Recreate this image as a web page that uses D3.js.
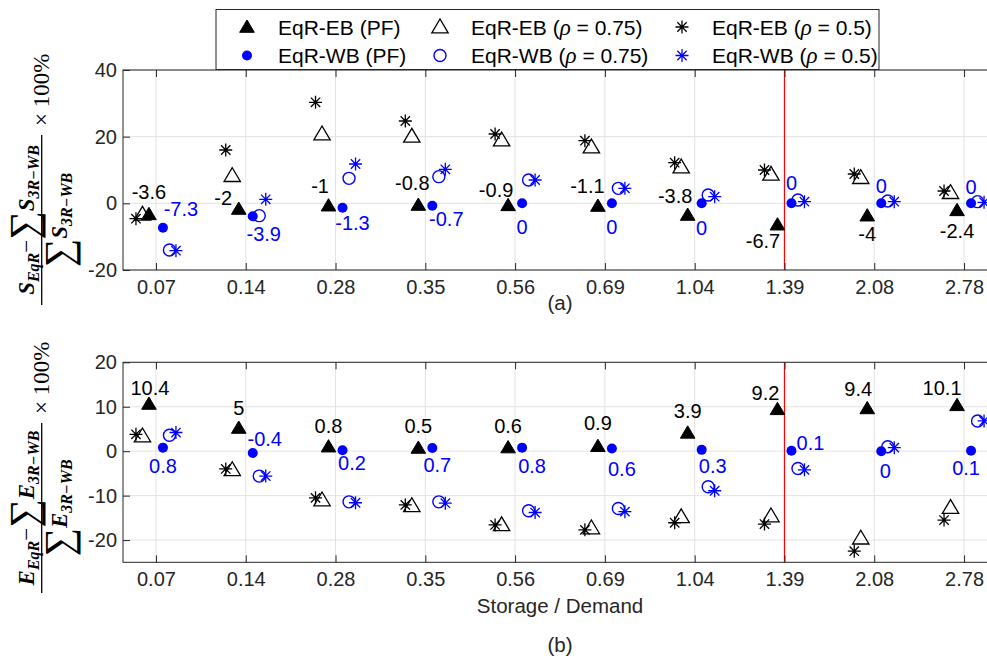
<!DOCTYPE html>
<html><head><meta charset="utf-8">
<script src="https://cdn.jsdelivr.net/npm/d3@7"></script>
<style>body{margin:0;background:#fff} svg{display:block}</style>
</head><body>
<script>
// ---------------- DATA ----------------
const categories = ["0.07","0.14","0.28","0.35","0.56","0.69","1.04","1.39","2.08","2.78"];
// (a) storage deviation, %
const sEbPF  = [-3.6, -2, -1, -0.8, -0.9, -1.1, -3.8, -6.7, -4, -2.4];
const sWbPF  = [-7.3, -3.9, -1.3, -0.7, 0, 0, 0, 0, 0, 0];
const sEb075 = [-3.6, 8, 20.5, 19.8, 18.7, 16.6, 10.6, 8.4, 7.4, 2.9];
const sWb075 = [-14, -3.7, 7.5, 8, 7, 4.5, 2.5, 1, 0.7, 0.5];
const sEb05  = [-4.6, 16, 30.3, 24.7, 20.8, 18.8, 12.2, 10, 8.8, 3.7];
const sWb05  = [-14.2, 1.2, 11.8, 10.2, 7, 4.5, 2, 0.5, 0.5, 0.3];
// (b) energy deviation, %
const eEbPF  = [10.4, 5, 0.8, 0.5, 0.6, 0.9, 3.9, 9.2, 9.4, 10.1];
const eWbPF  = [0.8, -0.4, 0.2, 0.7, 0.8, 0.6, 0.3, 0.1, 0, 0.1];
const eEb075 = [3.2, -4.4, -11.2, -12.5, -16.8, -17.5, -15, -14.8, -19.8, -12.9];
const eWb075 = [3.6, -5.6, -11.4, -11.4, -13.4, -12.9, -8, -3.9, 1, 6.8];
const eEb05  = [3.8, -4, -10.5, -12.1, -16.6, -17.7, -16.1, -16.4, -22.5, -15.5];
const eWb05  = [4.2, -5.6, -11.6, -11.7, -13.8, -13.6, -8.9, -4.2, 0.8, 6.8];
const yTicksA = [-20, 0, 20, 40];
const yTicksB = [-20, -10, 0, 10, 20];
const markedCategory = "1.39";

// ---------------- LAYOUT (annotation offsets, px) ----------------
const lblA_black = [[0,-23.6],[-15.5,-12.5],[-8.5,-20.7],[-6,-23.5],[-12,-17],[-10.5,-21.5],[-12.5,-20.5],[-14.5,15],[0,16.7],[0,19]];
const lblA_blue  = [[18,-18.6],[11,17],[10,15],[14,13],[0,23],[0,23],[0,24],[0,-21],[0,-18],[0,-17]];
const lblB_black = [[1,-17.5],[0,-21.5],[0,-21.8],[0,-23],[0,-23],[0,-24.7],[0,-23],[-12,-18],[-9,-20.6],[-15,-19]];
const lblB_blue  = [[0,18],[12,-14],[9.5,12],[5,17],[10,18.5],[10,20],[11,16],[19,-8],[4,19.6],[-5,17]];

const W = 987, H = 656;
const SANS = "'Liberation Sans', Arial, sans-serif";
const SERIF = "'Liberation Serif', 'Times New Roman', serif";
const AX = "#262626";
const BLUE = "#0000ff";
const FS = 20;

const svg = d3.select("body").append("svg").attr("width", W).attr("height", H)
  .attr("font-family", SANS);

const left = 123, right = 997;
const x = d3.scalePoint().domain(categories).range([left, right]).padding(0.367);
const off = {eb05: -20, eb075: -13.5, ebPF: -7, wbPF: 7, wb075: 13.5, wb05: 20};

function marker(g, type, cx, cy) {
  if (type === "triF" || type === "triO") {
    const s = type === "triF" ? 1 : 1.12;
    const p = `M${cx},${cy - 8*s}L${cx - 7.3*s},${cy + 4.3*s}L${cx + 7.3*s},${cy + 4.3*s}Z`;
    g.append("path").attr("d", p)
      .attr("fill", type === "triF" ? "#000" : "none")
      .attr("stroke", "#000").attr("stroke-width", type === "triF" ? 1 : 1.3)
      .attr("stroke-linejoin", "miter");
  } else if (type === "dot") {
    g.append("circle").attr("cx", cx).attr("cy", cy).attr("r", 5).attr("fill", BLUE);
  } else if (type === "circ") {
    g.append("circle").attr("cx", cx).attr("cy", cy).attr("r", 6).attr("fill", "none")
      .attr("stroke", BLUE).attr("stroke-width", 1.4);
  } else if (type === "starK" || type === "starB") {
    const c = type === "starK" ? "#000" : BLUE;
    const a = 6.5, d = a * 0.72;
    const p = `M${cx - a},${cy}H${cx + a}M${cx},${cy - a}V${cy + a}` +
              `M${cx - d},${cy - d}L${cx + d},${cy + d}M${cx - d},${cy + d}L${cx + d},${cy - d}`;
    g.append("path").attr("d", p).attr("stroke", c).attr("stroke-width", 1.3).attr("fill", "none");
  }
}

function panel(cfg) {
  const y = d3.scaleLinear().domain(cfg.domain).range([cfg.bottom, cfg.top]);
  const g = svg.append("g");
  g.selectAll(".gx").data(categories).join("line")
    .attr("x1", d => x(d)).attr("x2", d => x(d))
    .attr("y1", cfg.top).attr("y2", cfg.bottom)
    .attr("stroke", "#e2e2e2").attr("stroke-width", 1);
  g.selectAll(".gy").data(cfg.ticks).join("line")
    .attr("x1", left).attr("x2", right)
    .attr("y1", d => y(d)).attr("y2", d => y(d))
    .attr("stroke", "#e2e2e2").attr("stroke-width", 1);
  g.append("line").attr("x1", x(markedCategory)).attr("x2", x(markedCategory))
    .attr("y1", cfg.top).attr("y2", cfg.bottom).attr("stroke", "#ff0000").attr("stroke-width", 1.2);
  const ax = g.append("g").attr("transform", `translate(0,${cfg.bottom})`)
    .call(d3.axisBottom(x).tickSize(-7).tickPadding(10));
  const axT = g.append("g").attr("transform", `translate(0,${cfg.top})`)
    .call(d3.axisTop(x).tickSize(-7).tickFormat(""));
  const ay = g.append("g").attr("transform", `translate(${left},0)`)
    .call(d3.axisLeft(y).tickValues(cfg.ticks).tickSize(-7).tickPadding(6).tickFormat(d => String(d)));
  [ax, axT, ay].forEach(a => {
    a.select(".domain").remove();
    a.selectAll(".tick line").attr("stroke", AX);
    a.selectAll("text").attr("fill", AX).attr("font-size", FS).attr("font-family", SANS);
  });
  g.append("rect").attr("x", left).attr("y", cfg.top).attr("width", right - left)
    .attr("height", cfg.bottom - cfg.top).attr("fill", "none").attr("stroke", AX).attr("stroke-width", 1);

  const m = g.append("g");
  const series = [
    [cfg.ebPF, "triF", off.ebPF], [cfg.wbPF, "dot", off.wbPF],
    [cfg.eb075, "triO", off.eb075], [cfg.wb075, "circ", off.wb075],
    [cfg.eb05, "starK", off.eb05], [cfg.wb05, "starB", off.wb05]
  ];
  series.forEach(([vals, type, o]) => {
    vals.forEach((v, i) => marker(m, type, x(categories[i]) + o, y(v)));
  });
  const lg = g.append("g").attr("font-size", FS).attr("text-anchor", "middle");
  cfg.ebPF.forEach((v, i) => {
    lg.append("text").attr("x", x(categories[i]) + off.ebPF + cfg.lblK[i][0])
      .attr("y", y(v) + cfg.lblK[i][1]).attr("dy", "0.36em").attr("fill", "#000").text(String(v));
  });
  cfg.wbPF.forEach((v, i) => {
    lg.append("text").attr("x", x(categories[i]) + off.wbPF + cfg.lblB[i][0])
      .attr("y", y(v) + cfg.lblB[i][1]).attr("dy", "0.36em").attr("fill", BLUE).text(String(v));
  });
}

panel({top: 70, bottom: 270, domain: [-20, 40], ticks: yTicksA,
  ebPF: sEbPF, wbPF: sWbPF, eb075: sEb075, wb075: sWb075, eb05: sEb05, wb05: sWb05,
  lblK: lblA_black, lblB: lblA_blue});
panel({top: 362.3, bottom: 562.3, domain: [-25, 20], ticks: yTicksB,
  ebPF: eEbPF, wbPF: eWbPF, eb075: eEb075, wb075: eWb075, eb05: eEb05, wb05: eWb05,
  lblK: lblB_black, lblB: lblB_blue});

svg.append("text").attr("x", 560).attr("y", 303).attr("dy", "0.36em").attr("text-anchor", "middle")
  .attr("font-size", 20.5).attr("fill", AX).text("(a)");
svg.append("text").attr("x", 560).attr("y", 605.5).attr("dy", "0.36em").attr("text-anchor", "middle")
  .attr("font-size", 20.5).attr("fill", AX).text("Storage / Demand");
svg.append("text").attr("x", 560).attr("y", 645).attr("dy", "0.36em").attr("text-anchor", "middle")
  .attr("font-size", 20.5).attr("fill", AX).text("(b)");

// y-axis math labels
function mathLabel(cx, cy, L) {
  const g = svg.append("g").attr("transform", `translate(${cx},${cy}) rotate(-90)`)
    .attr("font-family", SERIF).attr("font-weight", "bold").attr("fill", "#000");
  const num = g.append("text").attr("text-anchor", "middle").attr("x", 0).attr("y", -8).attr("font-size", 23);
  num.append("tspan").attr("font-style", "italic").text(L);
  num.append("tspan").attr("font-style", "italic").attr("font-size", 16).attr("dy", 5).text("EqR");
  num.append("tspan").attr("dy", -5).attr("font-weight", "normal").text("\u2212");
  num.append("tspan").attr("font-size", 40).attr("font-weight", "normal").attr("dy", 3).text("\u2211");
  num.append("tspan").attr("font-style", "italic").attr("dy", -3).text(L);
  num.append("tspan").attr("font-style", "italic").attr("font-size", 16).attr("dy", 5).text("3R\u2212WB");
  const den = g.append("text").attr("text-anchor", "middle").attr("x", 0).attr("y", 25).attr("font-size", 23);
  den.append("tspan").attr("font-size", 40).attr("font-weight", "normal").attr("dy", 5).text("\u2211");
  den.append("tspan").attr("font-style", "italic").attr("dy", -5).text(L);
  den.append("tspan").attr("font-style", "italic").attr("font-size", 16).attr("dy", 5).text("3R\u2212WB");
  const len = Math.max(num.node().getBBox().width, 170);
  g.append("line").attr("x1", -len / 2).attr("x2", len / 2).attr("y1", 0).attr("y2", 0)
    .attr("stroke", "#000").attr("stroke-width", 1.3);
  g.append("text").attr("x", len / 2 + 9).attr("y", 7).attr("font-size", 23).attr("font-weight", "normal")
    .text("\u00d7 100%");
}
mathLabel(41.7, 220, "S");
mathLabel(41.7, 508, "E");

// legend
const leg = svg.append("g");
leg.append("rect").attr("x", 216).attr("y", 9.5).attr("width", 663).attr("height", 60)
  .attr("fill", "#fff").attr("stroke", AX).attr("stroke-width", 1);
const legItems = [
  {type: "triF", col: 0, row: 0, name: "EqR-EB", p: "(PF)"},
  {type: "dot", col: 0, row: 1, name: "EqR-WB", p: "(PF)"},
  {type: "triO", col: 1, row: 0, name: "EqR-EB", rho: "0.75"},
  {type: "circ", col: 1, row: 1, name: "EqR-WB", rho: "0.75"},
  {type: "starK", col: 2, row: 0, name: "EqR-EB", rho: "0.5"},
  {type: "starB", col: 2, row: 1, name: "EqR-WB", rho: "0.5"}
];
const colMX = [247, 440, 682], colTX = [278, 471, 712], rowY = [27, 55.5];
legItems.forEach(it => {
  marker(leg, it.type, colMX[it.col], rowY[it.row] + (it.type.startsWith("tri") ? 1 : 0));
  const t = leg.append("text").attr("x", colTX[it.col]).attr("y", rowY[it.row]).attr("dy", "0.36em")
    .attr("font-size", 21).attr("fill", "#000");
  if (it.p) t.text(it.name + " " + it.p);
  else {
    t.append("tspan").text(it.name + " (");
    t.append("tspan").attr("font-family", SERIF).attr("font-style", "italic").attr("font-size", 23).text("\u03c1");
    t.append("tspan").text(" = " + it.rho + ")");
  }
});
</script>
</body></html>
